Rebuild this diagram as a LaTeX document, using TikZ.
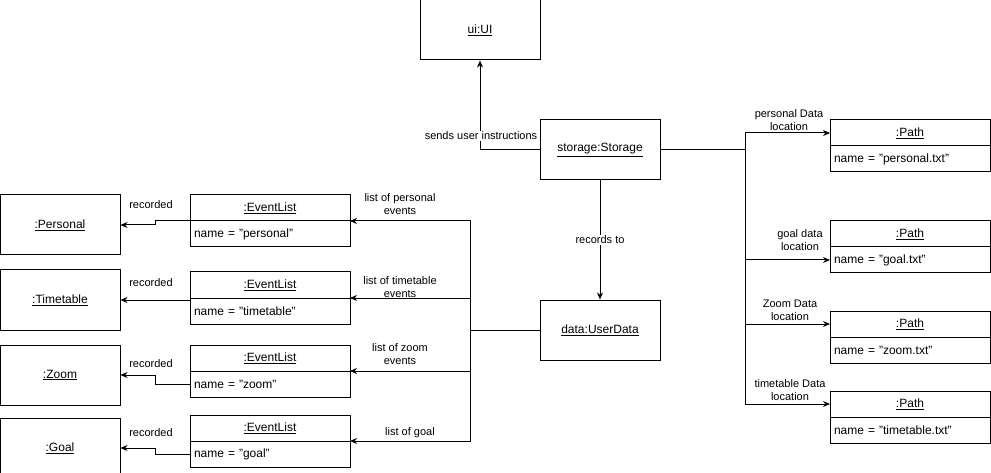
\documentclass[tikz,border=0pt]{standalone}
\usepackage{fontspec}
\setmainfont{Liberation Sans}
\usetikzlibrary{arrows.meta, positioning, calc}

\tikzset{
    objbox/.style={draw, line width=1pt, minimum width=120pt, minimum height=60pt,
                   inner sep=0pt, font=\fontsize{12}{14}\selectfont},
    headbox/.style={draw, line width=1pt, minimum width=160pt, minimum height=26pt,
                    inner sep=0pt, outer sep=0pt, font=\fontsize{12}{14}\selectfont},
    rowbox/.style={draw, line width=1pt, minimum height=26pt, inner sep=4pt, outer sep=0pt,
                   text width=152pt, align=left, font=\fontsize{12}{14}\selectfont},
    link/.style={-{Stealth[length=7pt,width=6pt]}, line width=1pt},
    lbl/.style={font=\fontsize{11}{13}\selectfont, align=center, inner sep=1pt},
}

\begin{document}
\begin{tikzpicture}[x=1pt, y=-1pt]
    \useasboundingbox (0,0) rectangle (991,473);

    % main objects
    \node[objbox] (ui) at (480,30) {\underline{ui:UI}};
    \node[objbox] (storage) at (600,150) {\underline{storage:Storage}};
    \node[objbox] (data) at (600,330) {\underline{data:UserData}};

    % recorded objects
    \node[objbox] (pers) at (60,225) {\underline{:Personal}};
    \node[objbox] (tt) at (60,300) {\underline{:Timetable}};
    \node[objbox] (zoom) at (60,375) {\underline{:Zoom}};
    \node[objbox] (goal) at (60,448) {\underline{:Goal}};

    % event lists
    \node[headbox] (elP) at (270,208) {\underline{:EventList}};
    \node[rowbox, below=0pt of elP] (elPn) {name = "personal"};
    \node[headbox] (elT) at (270,285) {\underline{:EventList}};
    \node[rowbox, below=0pt of elT] (elTn) {name = "timetable"};
    \node[headbox] (elZ) at (270,358) {\underline{:EventList}};
    \node[rowbox, below=0pt of elZ] (elZn) {name = "zoom"};
    \node[headbox] (elG) at (270,428) {\underline{:EventList}};
    \node[rowbox, below=0pt of elG] (elGn) {name = "goal"};

    % paths
    \node[headbox] (pathP) at (910,133) {\underline{:Path}};
    \node[rowbox, below=0pt of pathP] (pathPn) {name = "personal.txt"};
    \node[headbox] (pathG) at (910,234) {\underline{:Path}};
    \node[rowbox, below=0pt of pathG] (pathGn) {name = "goal.txt"};
    \node[headbox] (pathZ) at (910,324) {\underline{:Path}};
    \node[rowbox, below=0pt of pathZ] (pathZn) {name = "zoom.txt"};
    \node[headbox] (pathT) at (910,404) {\underline{:Path}};
    \node[rowbox, below=0pt of pathT] (pathTn) {name = "timetable.txt"};

    % storage links
    \draw[link] (storage.west) -| (ui.south);
    \node[lbl, fill=white] (sendsLbl) at (481,136) {sends user instructions};
    \draw[link] (storage.south) -- (data.north)
        node[lbl, midway, fill=white] (recLbl) {records to};

    \coordinate (sbus) at (745,150);
    \draw[link] (storage.east) -- (sbus) |- (pathP.west);
    \draw[link] (storage.east) -- (sbus) |- (pathGn.west);
    \draw[link] (storage.east) -- (sbus) |- (pathZ.west);
    \draw[link] (storage.east) -- (sbus) |- (pathT.west);
    \node[lbl] (pLbl) at (789,120) {personal Data\\location};
    \node[lbl] (gLbl) at (800,240) {goal data\\location};
    \node[lbl] (zLbl) at (790,310) {Zoom Data\\location};
    \node[lbl] (tLbl) at (790,390) {timetable Data\\location};

    % user data links
    \coordinate (dbus) at (470,330);
    \draw[link] (data.west) -- (dbus) |- (elP.south east);
    \draw[link] (data.west) -- (dbus) |- (elT.south east);
    \draw[link] (data.west) -- (dbus) |- (elZ.south east);
    \draw[link] (data.west) -- (dbus) |- (elG.south east);
    \node[lbl] (lpLbl) at (400,204) {list of personal\\events};
    \node[lbl] (ltLbl) at (400,287) {list of timetable\\events};
    \node[lbl] (lzLbl) at (400,354) {list of zoom\\events};
    \node[lbl] (lgLbl) at (410,433) {list of goal};

    % event list links
    \draw[link] (elP.south west) -- ++(-35,0) |- (pers.east);
    \draw[link] (elT.south west |- tt.east) -- (tt.east);
    \draw[link] (elZn.west) -- ++(-35,0) |- (zoom.east);
    \draw[link] (elGn.west) -- ++(-35,0) |- (goal.east);
    \node[lbl] (r1) at (151,205) {recorded};
    \node[lbl] (r2) at (151,283) {recorded};
    \node[lbl] (r3) at (151,364) {recorded};
    \node[lbl] (r4) at (151,433) {recorded};
\end{tikzpicture}
\end{document}
